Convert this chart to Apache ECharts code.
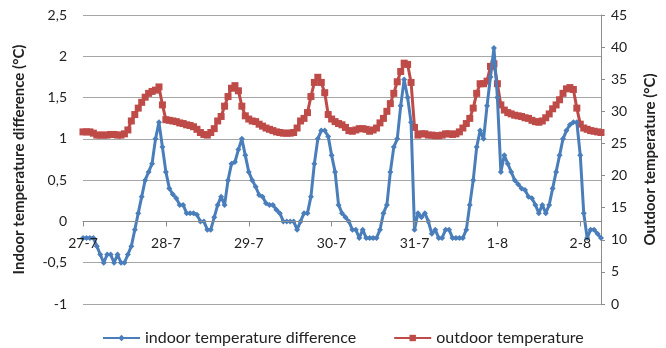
<!DOCTYPE html>
<html>
<head>
<meta charset="utf-8">
<title>indoor / outdoor temperature</title>
<style>
html,body{margin:0;padding:0;background:#fff;}
#main{width:666px;height:348px;}
</style>
</head>
<body>
<div id="main"></div>
<script src="https://cdn.jsdelivr.net/npm/echarts@6/dist/echarts.min.js"></script>
<script>
// one point per hour, starting 27-7 00:00
var dates = ['27-7', '28-7', '29-7', '30-7', '31-7', '1-8', '2-8'];

var indoorDiff = [
  -0.2,-0.2,-0.2,-0.2,-0.3,-0.4,-0.5,-0.4,-0.4,-0.5,-0.4,-0.5,-0.5,-0.4,-0.3,-0.1,0.1,0.3,0.5,0.6,0.7,1.0,1.2,0.9,
  0.6,0.4,0.33,0.28,0.2,0.2,0.1,0.1,0.1,0.08,0,0,-0.1,-0.1,0.05,0.2,0.3,0.2,0.5,0.7,0.72,0.87,1.0,0.8,
  0.6,0.5,0.42,0.32,0.3,0.22,0.2,0.2,0.14,0.1,0,0,0,0,-0.1,0,0.1,0.1,0.3,0.7,1.0,1.1,1.1,1.03,
  0.8,0.6,0.2,0.1,0.05,0,-0.1,-0.1,-0.2,-0.1,-0.2,-0.2,-0.2,-0.2,-0.1,0.1,0.2,0.6,0.9,1.0,1.4,1.72,1.5,1.2,
  -0.1,0.1,0.05,0.1,0,-0.15,-0.1,-0.2,-0.2,-0.1,-0.1,-0.2,-0.2,-0.2,-0.2,-0.1,0.2,0.5,0.9,1.1,1.0,1.4,1.75,2.1,
  1.5,0.6,0.8,0.7,0.6,0.5,0.45,0.4,0.38,0.3,0.28,0.2,0.1,0.2,0.1,0.2,0.4,0.6,0.8,1.0,1.1,1.17,1.2,1.2,
  0.8,0.1,-0.2,-0.1,-0.1,-0.15,-0.2
];

var outdoorTemp = [
  26.8,26.8,26.8,26.6,26.3,26.3,26.3,26.3,26.4,26.4,26.3,26.3,26.5,27.1,28.5,29.5,30.5,31.4,32.2,32.8,33.1,33.3,33.8,31.0,
  28.7,28.6,28.5,28.4,28.2,28.1,27.9,27.8,27.6,27.2,26.7,26.4,26.3,26.7,27.3,28.5,29.2,30.8,32.3,33.6,34.0,33.2,30.8,29.3,
  28.8,28.5,28.4,28.0,27.7,27.4,27.2,27.0,26.8,26.7,26.6,26.6,26.6,26.7,27.4,28.5,28.9,29.8,32.3,34.5,35.3,34.5,32.9,29.5,
  28.8,28.4,28.1,27.9,27.5,27.0,26.9,27.1,27.3,27.3,27.2,26.9,27.1,27.4,28.2,28.9,30.0,31.2,32.8,34.6,36.2,37.5,37.3,34.5,
  27.5,26.3,26.5,26.5,26.3,26.3,26.2,26.2,26.3,26.5,26.5,26.4,26.5,26.8,27.4,28.1,28.9,30.5,32.8,34.3,34.3,34.7,37.0,37.4,
  34.3,31.0,30.2,29.8,29.6,29.4,29.3,29.2,29.0,28.9,28.6,28.4,28.3,28.5,29.0,29.6,30.4,31.0,31.8,32.8,33.5,33.7,33.4,30.5,
  28.0,27.4,27.2,27.0,26.9,26.8,26.7
];

// category per hour: "27-7 0h" ...
var hours = [];
for (var i = 0; i < indoorDiff.length; i++) {
  hours.push(dates[Math.floor(i / 24)] + ' ' + (i % 24) + 'h');
}

var font = 'Lato, "Open Sans", sans-serif';
var gridTop = 15, gridBottom = 44, H = 348;
var leftMin = -1, leftMax = 2.5;
// x axis crosses the left axis at 0
var plotH = H - gridTop - gridBottom;
var zeroOffset = -plotH * (0 - leftMin) / (leftMax - leftMin);

var myChart = echarts.init(document.getElementById('main'));

var option = {
  animation: false,
  textStyle: { fontFamily: font },
  grid: { left: 83, right: 63, top: gridTop, bottom: gridBottom, containLabel: false },
  legend: {
    bottom: 2,
    left: 102,
    padding: 0,
    itemWidth: 37,
    itemHeight: 8,
    itemGap: 37,
    textStyle: { fontSize: 16, color: '#222', fontFamily: font },
    data: ['indoor temperature difference', 'outdoor temperature']
  },
  xAxis: {
    type: 'category',
    data: hours,
    boundaryGap: false,
    offset: zeroOffset,
    z: 4,
    axisLine: { onZero: false, lineStyle: { color: '#8c8c8c', width: 1 } },
    axisTick: { interval: 23, length: 5, lineStyle: { color: '#8c8c8c' } },
    axisLabel: {
      interval: 23, margin: 15, fontSize: 14, color: '#222',
      formatter: function (v) { return v.split(' ')[0]; }
    },
    splitLine: { show: false }
  },
  yAxis: [{
    type: 'value',
    min: leftMin, max: leftMax, interval: 0.5,
    name: 'Indoor temperature difference (°C)',
    nameLocation: 'middle',
    nameRotate: 90,
    nameGap: 56,
    nameTextStyle: { fontSize: 15, fontWeight: 'bold', color: '#222' },
    axisLine: { show: false },
    axisTick: { show: false },
    axisLabel: {
      fontSize: 14, color: '#222', margin: 16,
      formatter: function (v) { return String(v).replace('.', ','); }
    },
    splitLine: { lineStyle: { color: '#a6a6a6', width: 1 } }
  }, {
    type: 'value',
    min: 0, max: 45, interval: 5,
    position: 'right',
    name: 'Outdoor temperature (°C)',
    nameLocation: 'middle',
    nameRotate: 90,
    nameGap: 42,
    nameTextStyle: { fontSize: 15, fontWeight: 'bold', color: '#222' },
    axisLine: { show: true, lineStyle: { color: '#8c8c8c' } },
    axisTick: { show: true, length: 4, lineStyle: { color: '#8c8c8c' } },
    axisLabel: { fontSize: 14, color: '#222', margin: 10 },
    splitLine: { show: false }
  }],
  series: [{
    name: 'indoor temperature difference',
    type: 'line',
    yAxisIndex: 0,
    data: indoorDiff,
    z: 3,
    symbol: 'diamond',
    symbolSize: 6,
    showAllSymbol: true,
    lineStyle: { color: '#4a7ebb', width: 3 },
    itemStyle: { color: '#4a7ebb' }
  }, {
    name: 'outdoor temperature',
    type: 'line',
    yAxisIndex: 1,
    data: outdoorTemp,
    z: 2,
    symbol: 'rect',
    symbolSize: 7,
    showAllSymbol: true,
    lineStyle: { color: '#be4b48', width: 3 },
    itemStyle: { color: '#be4b48' }
  }]
};

myChart.setOption(option);
</script>
</body>
</html>
